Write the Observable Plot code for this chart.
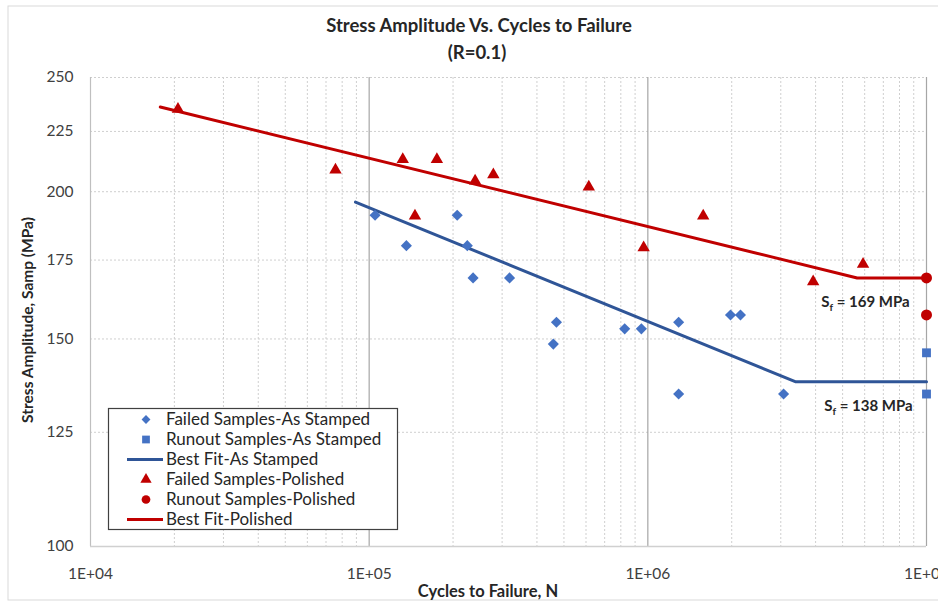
<!DOCTYPE html>
<html>
<head>
<meta charset="utf-8">
<script src="https://cdn.jsdelivr.net/npm/d3@7"></script>
<script src="https://cdn.jsdelivr.net/npm/@observablehq/plot@0.6"></script>
<style>
  html, body { margin: 0; padding: 0; background: #fff; overflow: hidden; }
  #chart { position: relative; width: 938px; height: 605px; }
</style>
</head>
<body>
<div id="chart"></div>
<script>
// ---- Data ----
const stampedFailedN = [1.05e5, 1.36e5, 2.07e5, 2.25e5, 2.36e5, 3.19e5, 4.70e5, 4.58e5, 8.26e5, 9.48e5, 1.29e6, 1.29e6, 1.98e6, 2.15e6, 3.07e6];
const stampedFailedS = [191, 180, 191, 180, 169, 169, 155, 148.5, 153, 153, 155, 134.7, 157.2, 157.2, 134.7];

const stampedRunoutN = [1e7, 1e7];
const stampedRunoutS = [146, 134.7];

const stampedFitN = [8.93e4, 3.38e6, 1e7];
const stampedFitS = [196, 138, 138];

const polishedFailedN = [2.06e4, 7.57e4, 1.32e5, 1.75e5, 2.40e5, 2.79e5, 1.46e5, 6.14e5, 9.66e5, 1.58e6, 3.92e6, 5.92e6];
const polishedFailedS = [235, 208.7, 213, 213, 204.3, 206.8, 190.8, 201.9, 179.3, 190.8, 167.8, 173.6];

const polishedRunoutN = [1e7, 1e7];
const polishedRunoutS = [169, 157.2];

const polishedFitN = [1.78e4, 5.64e6, 1e7];
const polishedFitS = [236, 169, 169];

const xTicks = [1e4, 1e5, 1e6, 1e7];
const xTickLabels = ["1E+04", "1E+05", "1E+06", "1E+07"];
const yTicks = [100, 125, 150, 175, 200, 225, 250];
const xMinor = [2e4,3e4,4e4,5e4,6e4,7e4,8e4,9e4, 2e5,3e5,4e5,5e5,6e5,7e5,8e5,9e5, 2e6,3e6,4e6,5e6,6e6,7e6,8e6,9e6];

const annotations = [
  {n: 6.04e6, s: 161.3, label: "Sf = 169 MPa"},
  {n: 6.19e6, s: 131.6, label: "Sf = 138 MPa"}
];

const legendItems = [
  {label: "Failed Samples-As Stamped", kind: "diamond", color: "#4472C4"},
  {label: "Runout Samples-As Stamped", kind: "square", color: "#4472C4"},
  {label: "Best Fit-As Stamped", kind: "line", color: "#2F5597"},
  {label: "Failed Samples-Polished", kind: "triangle", color: "#C00000"},
  {label: "Runout Samples-Polished", kind: "circle", color: "#C00000"},
  {label: "Best Fit-Polished", kind: "line", color: "#C00000"}
];

// ---- Tables built from the arrays ----
const zip = (ns, ss) => ns.map((n, i) => ({n, s: ss[i]}));
const stampedFailed = zip(stampedFailedN, stampedFailedS);
const stampedRunout = zip(stampedRunoutN, stampedRunoutS);
const stampedFit = zip(stampedFitN, stampedFitS);
const polishedFailed = zip(polishedFailedN, polishedFailedS);
const polishedRunout = zip(polishedRunoutN, polishedRunoutS);
const polishedFit = zip(polishedFitN, polishedFitS);

const FONT = "Lato, 'Open Sans', sans-serif";

const svg = Plot.plot({
  width: 938,
  height: 605,
  marginTop: 77,
  marginBottom: 59,
  marginLeft: 90,
  marginRight: 12,
  style: {fontFamily: FONT, fontSize: "15.5px", color: "#404040", background: "transparent", overflow: "visible"},
  x: {type: "log", domain: [1e4, 1e7], ticks: xTicks, tickFormat: d => xTickLabels[xTicks.indexOf(d)], tickSize: 0, tickPadding: 21, label: null},
  y: {type: "log", domain: [100, 250], ticks: yTicks, tickFormat: d => String(d), tickSize: 0, tickPadding: 17, label: null},
  marks: [
    Plot.ruleX(xMinor, {stroke: "#cfcfcf", strokeDasharray: "2,2", strokeWidth: 1}),
    Plot.ruleY(yTicks.filter(d => d > 100), {stroke: "#cfcfcf", strokeDasharray: "2,2", strokeWidth: 1}),
    Plot.ruleX(xTicks.slice(1), {stroke: "#a6a6a6", strokeWidth: 1.2}),
    Plot.ruleX([1e4], {stroke: "#bfbfbf", strokeWidth: 1.2}),
    Plot.ruleY([100], {stroke: "#d0d0d0", strokeWidth: 1.5}),
    Plot.line(polishedFit, {x: "n", y: "s", stroke: "#C00000", strokeWidth: 3}),
    Plot.line(stampedFit, {x: "n", y: "s", stroke: "#2F5597", strokeWidth: 3}),
    Plot.dot(stampedFailed, {x: "n", y: "s", symbol: "diamond2", r: 5, fill: "#4472C4", stroke: "none"}),
    Plot.dot(stampedRunout, {x: "n", y: "s", symbol: "square", r: 5, fill: "#4472C4", stroke: "none"}),
    Plot.dot(polishedFailed, {x: "n", y: "s", symbol: "triangle", r: 4.6, fill: "#C00000", stroke: "none"}),
    Plot.dot(polishedRunout, {x: "n", y: "s", symbol: "circle", r: 5.5, fill: "#C00000", stroke: "none"}),
    Plot.text(annotations, {x: "n", y: "s", text: "label", fontWeight: "bold", fontSize: 15, fill: "#262626", textAnchor: "middle"})
  ]
});

document.getElementById("chart").appendChild(svg);

const sel = d3.select(svg);

// Subscript f in annotations
sel.selectAll("text").each(function() {
  const t = this.textContent;
  if (/^Sf = /.test(t)) {
    const rest = t.slice(2);
    const el = d3.select(this);
    el.text(null);
    el.append("tspan").text("S");
    el.append("tspan").attr("font-size", 10).attr("dy", 4).text("f");
    el.append("tspan").attr("dy", -4).text(rest);
  }
});

// Chart border
sel.insert("rect", ":first-child")
  .attr("x", 8).attr("y", 6).attr("width", 940).attr("height", 594)
  .attr("fill", "white").attr("stroke", "#d9d9d9").attr("stroke-width", 1);

// Titles
sel.append("text").attr("x", 479).attr("y", 32).attr("text-anchor", "middle")
  .attr("font-family", FONT).attr("font-weight", "bold").attr("font-size", 18.5).attr("fill", "#262626")
  .text("Stress Amplitude Vs. Cycles to Failure");
sel.append("text").attr("x", 477).attr("y", 59).attr("text-anchor", "middle")
  .attr("font-family", FONT).attr("font-weight", "bold").attr("font-size", 18.5).attr("fill", "#262626")
  .text("(R=0.1)");

// Axis titles
sel.append("text").attr("x", 488).attr("y", 597).attr("text-anchor", "middle")
  .attr("font-family", FONT).attr("font-weight", "bold").attr("font-size", 16.5).attr("fill", "#262626")
  .text("Cycles to Failure, N");
sel.append("text").attr("transform", "translate(33,320) rotate(-90)").attr("text-anchor", "middle")
  .attr("font-family", FONT).attr("font-weight", "bold").attr("font-size", 15.5).attr("fill", "#262626")
  .text("Stress Amplitude, Samp (MPa)");

// Legend
const lg = sel.append("g");
lg.append("rect").attr("x", 108.5).attr("y", 408.5).attr("width", 289).attr("height", 121)
  .attr("fill", "white").attr("stroke", "#404040").attr("stroke-width", 1.2);
legendItems.forEach((item, i) => {
  const y = 419.5 + i * 20;
  const sx = 146;
  if (item.kind === "line") {
    lg.append("line").attr("x1", 127).attr("x2", 163).attr("y1", y).attr("y2", y)
      .attr("stroke", item.color).attr("stroke-width", 3);
  } else {
    const sym = {diamond: d3.symbolDiamond2, square: d3.symbolSquare, triangle: d3.symbolTriangle, circle: d3.symbolCircle}[item.kind];
    const size = {diamond: 50, square: 60, triangle: 55, circle: 60}[item.kind];
    lg.append("path").attr("transform", `translate(${sx},${y})`)
      .attr("d", d3.symbol(sym, size)()).attr("fill", item.color);
  }
  lg.append("text").attr("x", 166).attr("y", y).attr("dy", "0.35em").attr("text-anchor", "start")
    .attr("font-family", FONT).attr("font-size", 17).attr("fill", "#262626")
    .text(item.label);
});
</script>
</body>
</html>
